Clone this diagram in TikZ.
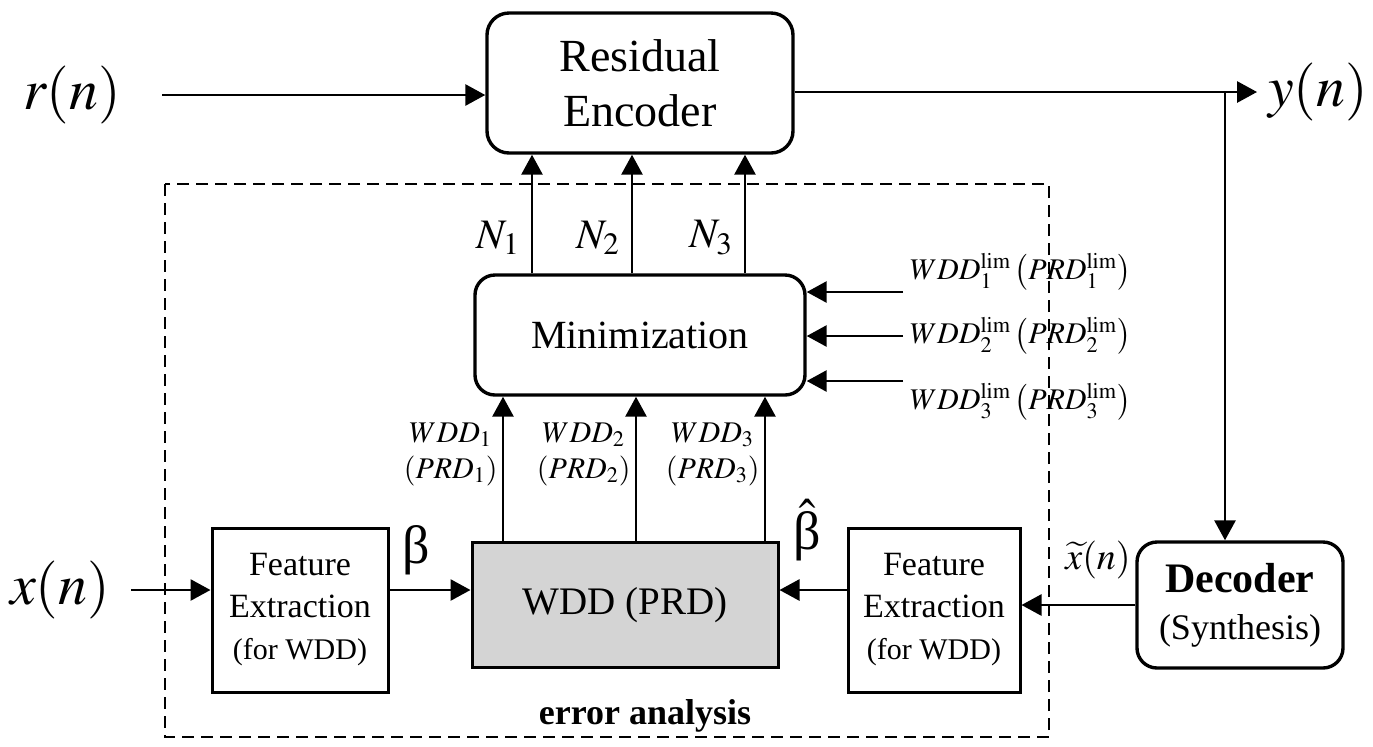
\documentclass[tikz,border=0pt]{standalone}
\usepackage{mathptmx}
\usepackage{fontspec}
\setmainfont{Liberation Serif}
\usetikzlibrary{
  arrows.meta,
  positioning,
}
\newcommand{\fsz}[2]{\fontsize{#1pt}{#2pt}\selectfont}
\tikzset{
  roundbox/.style={
    rectangle, rounded corners=11pt, draw, line width=1.7pt, align=center,
  },
  plainbox/.style={
    rectangle, draw, line width=1.5pt, align=center,
  },
  arrowMed/.style={
    -{Triangle[length=10pt,width=10.5pt]}, line width=1.4pt,
  },
  frameDash/.style={
    line width=1.1pt, dash pattern=on 6pt off 3.5pt,
  },
}

\begin{document}
\begin{tikzpicture}[x=0.5pt,y=-0.5pt]
\useasboundingbox (0,0) rectangle (1373,746);
% error analysis frame
\draw[frameDash] (165,184) rectangle (1049,737);
\node[font=\bfseries\fsz{18}{21}] (errlbl) at (645,716) {error analysis};

% blocks
\node[roundbox, minimum width=153pt, minimum height=70pt, font=\fsz{23}{27.5}] (enc) at (640,83) {Residual\\Encoder};
\node[roundbox, rounded corners=10pt, minimum width=165pt, minimum height=60pt, font=\fsz{20}{24}] (mini) at (640,335) {Minimization};
\node[plainbox, fill=black!17, minimum width=153pt, minimum height=62.5pt, font=\fsz{19.5}{23}] (wdd) at (625,605) {WDD (PRD)};
\node[plainbox, minimum width=88pt, minimum height=82pt, font=\fsz{17}{21}] (feL) at (300,610) {Feature\\Extraction\\{\fsz{15}{21}(for WDD)}};
\node[plainbox, minimum width=86pt, minimum height=82pt, font=\fsz{17}{21}] (feR) at (934,610) {Feature\\Extraction\\{\fsz{15}{21}(for WDD)}};
\node[roundbox, rounded corners=10pt, minimum width=103pt, minimum height=63pt, font=\fsz{18}{23.5}] (dec) at (1240,605) {{\bfseries\fsz{21}{23.5}Decoder}\\(Synthesis)};

% signals
\node[font=\fsz{29}{34}] (rn) at (72,95) {$r(n)$};
\node[font=\fsz{29}{34}] (yn) at (1318,92) {$y(n)$};
\node[font=\fsz{29}{34}] (xn) at (60,590) {$x(n)$};
\node[font=\fsz{19}{22}, inner sep=1pt] (xt) at (1098,560) {$\widetilde{x}(n)$};
\node[font=\fsz{27}{30}, inner sep=1pt] (beta) at (416,550) {β};
\node[font=\fsz{27}{30}, inner sep=1pt] (betahat) at (807,530) {$\hat{\mbox{β}}$};
\coordinate (br) at (1225,92);

\draw[arrowMed] ([xshift=17pt]rn.east) -- (enc.west |- rn.east);
\draw[arrowMed] (enc.east |- yn.west) -- ([xshift=-2pt]yn.west);
\draw[arrowMed] (br) -- (br |- dec.north);
\draw[arrowMed] (dec.west) -- (feR.east |- dec.west);
\draw[arrowMed] ([xshift=7pt]xn.east) -- (feL.west |- xn.east);
\draw[arrowMed] (feL.east |- xn.east) -- (wdd.west |- xn.east);
\draw[arrowMed] (feR.west |- xn.east) -- (wdd.east |- xn.east);

% N outputs
\foreach \x/\i in {532/1,632/2,745/3}
  \draw[arrowMed] (mini.north -| \x,0) -- (enc.south -| \x,0)
    node[pos=0.3, left=2pt, font=\fsz{21}{24}] {$N_\i$};

% distortion measures
\foreach \x/\i in {503/1,636/2,765/3}
  \draw[arrowMed] (wdd.north -| \x,0) -- (mini.south -| \x,0)
    node[pos=0.6, left=0pt, inner sep=2pt, align=center, font=\fsz{15}{18}] {$WDD_\i$\\$\left(PRD_\i\right)$};

% limits
\foreach \y/\ly/\i in {292/272/1,336/336/2,381/402/3}{
  \node[anchor=west, font=\fsz{15}{18}] (lim\i) at (903,\ly) {$WDD_\i^{\mathrm{lim}}\left(PRD_\i^{\mathrm{lim}}\right)$};
  \draw[arrowMed] (lim\i.west |- 0,\y) -- (mini.east |- 0,\y);
}
\end{tikzpicture}
\end{document}
